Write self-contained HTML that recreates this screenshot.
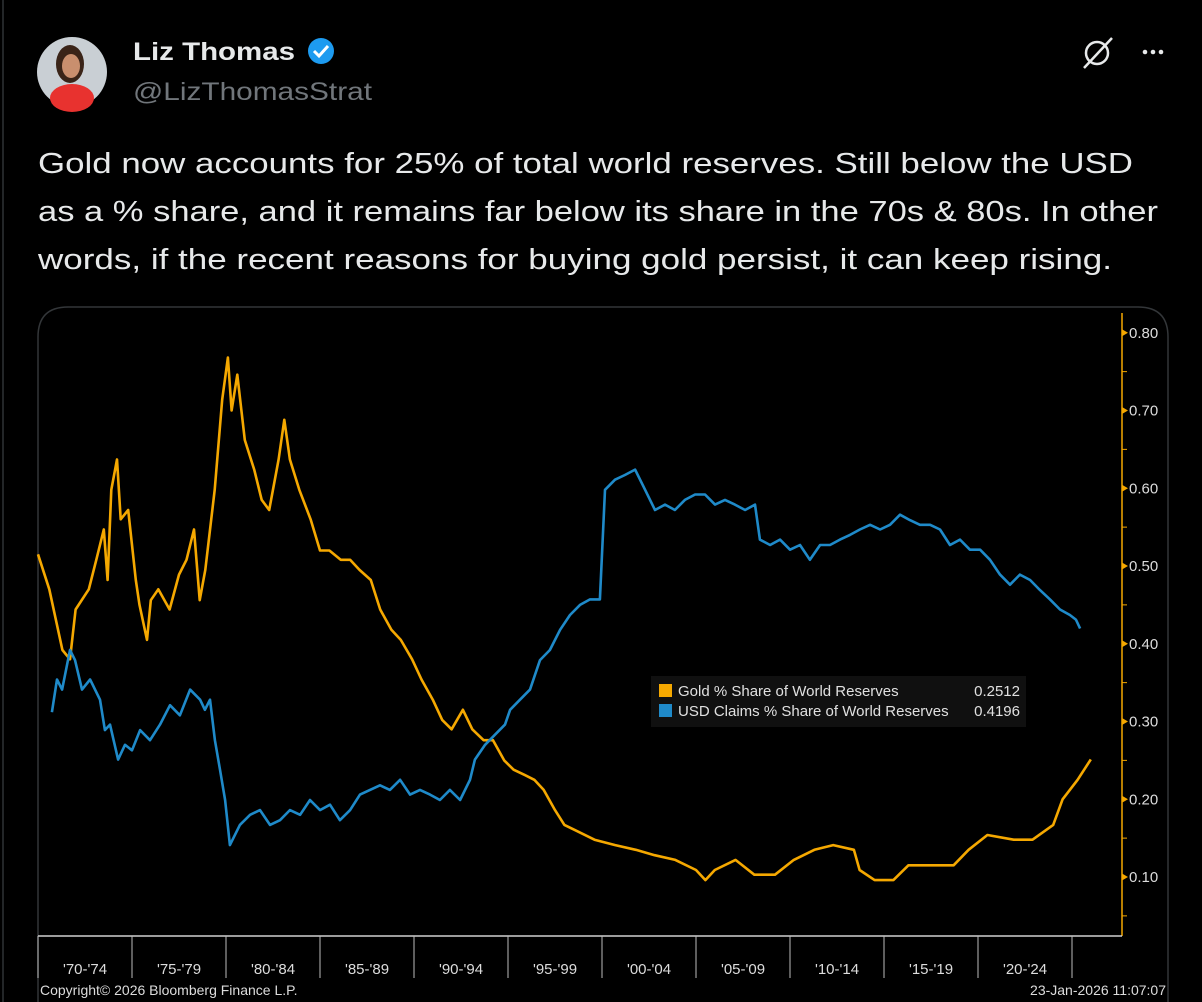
<!DOCTYPE html>
<html><head><meta charset="utf-8">
<style>
html,body{margin:0;padding:0;background:#000;width:1202px;height:1002px;overflow:hidden}
body{font-family:"Liberation Sans",sans-serif;color:#e7e9ea}
</style></head>
<body>
<svg id="root" width="1202" height="1002" viewBox="0 0 1202 1002" xmlns="http://www.w3.org/2000/svg">
  <rect x="0" y="0" width="1202" height="1002" fill="#000"/>
  <line x1="3" y1="0" x2="3" y2="1002" stroke="#2f3336" stroke-width="1.5"/>
  <g>
    <circle cx="72" cy="72" r="35" fill="#c9cfd4"/>
    <ellipse cx="72" cy="98" rx="22" ry="14" fill="#e8322f"/>
    <ellipse cx="70" cy="64" rx="14" ry="19" fill="#3a2418"/>
    <ellipse cx="71" cy="66" rx="9" ry="12" fill="#c98f6e"/>
  </g>
  <text x="133" y="60" font-size="25" font-weight="bold" fill="#e7e9ea" textLength="162" lengthAdjust="spacingAndGlyphs">Liz Thomas</text>
  <g>
    <circle cx="321" cy="51" r="13" fill="#1d9bf0"/>
    <path d="M314 51 l5 5 l9 -10" stroke="#fff" stroke-width="3" fill="none"/>
  </g>
  <text x="133" y="100" font-size="25" fill="#71767b" textLength="239" lengthAdjust="spacingAndGlyphs">@LizThomasStrat</text>
  <g>
    <circle cx="1097" cy="53" r="11" stroke="#e7e9ea" stroke-width="2.5" fill="none"/>
    <line x1="1084" y1="68" x2="1112" y2="38" stroke="#e7e9ea" stroke-width="2.5"/>
  </g>
  <g fill="#e7e9ea">
    <circle cx="1145" cy="52" r="2.3"/><circle cx="1153" cy="52" r="2.3"/><circle cx="1161" cy="52" r="2.3"/>
  </g>
  <g font-size="29" fill="#e7e9ea">
    <text x="38" y="173" textLength="1095" lengthAdjust="spacingAndGlyphs">Gold now accounts for 25% of total world reserves. Still below the USD</text>
    <text x="38" y="221" textLength="1120" lengthAdjust="spacingAndGlyphs">as a % share, and it remains far below its share in the 70s &amp; 80s. In other</text>
    <text x="38" y="269" textLength="1074" lengthAdjust="spacingAndGlyphs">words, if the recent reasons for buying gold persist, it can keep rising.</text>
  </g>
  <path d="M38 1002 V337 Q38 307 68 307 H1138 Q1168 307 1168 337 V1002" fill="#000" stroke="#333639" stroke-width="1.5"/>
  <g id="chart"></g>
</svg>
<script>
const goldYears=[1970.0,1970.6,1971.3,1971.7,1972.0,1972.7,1973.1,1973.5,1973.7,1973.9,1974.2,1974.4,1974.8,1975.2,1975.4,1975.8,1976.0,1976.4,1977.0,1977.5,1977.9,1978.3,1978.6,1978.9,1979.4,1979.8,1980.1,1980.3,1980.6,1981.0,1981.5,1981.9,1982.3,1982.8,1983.1,1983.4,1983.9,1984.5,1985.0,1985.5,1986.1,1986.6,1987.1,1987.7,1988.2,1988.8,1989.3,1989.9,1990.4,1991.0,1991.5,1992.0,1992.6,1993.1,1993.7,1994.2,1994.8,1995.3,1995.9,1996.4,1996.9,1997.5,1998.0,1998.6,1999.6,2000.7,2001.8,2002.8,2003.9,2005.0,2005.5,2006.0,2007.1,2008.1,2009.2,2010.2,2011.3,2012.3,2013.4,2013.7,2014.5,2015.5,2016.3,2017.6,2018.7,2019.5,2020.5,2021.9,2022.9,2024.0,2024.5,2025.3,2026.0];
const goldValues=[0.515,0.47,0.392,0.38,0.444,0.47,0.508,0.547,0.482,0.598,0.637,0.56,0.572,0.482,0.45,0.405,0.456,0.47,0.444,0.489,0.508,0.547,0.456,0.495,0.598,0.714,0.768,0.70,0.746,0.662,0.624,0.585,0.572,0.637,0.688,0.637,0.598,0.56,0.52,0.52,0.508,0.508,0.495,0.482,0.444,0.418,0.405,0.38,0.354,0.328,0.302,0.29,0.315,0.29,0.276,0.276,0.25,0.238,0.231,0.225,0.212,0.186,0.167,0.16,0.148,0.141,0.135,0.128,0.122,0.109,0.096,0.109,0.122,0.103,0.103,0.122,0.135,0.141,0.135,0.109,0.096,0.096,0.115,0.115,0.115,0.135,0.154,0.148,0.148,0.167,0.20,0.225,0.2512];
const usdYears=[1970.74,1971.01,1971.28,1971.70,1971.97,1972.34,1972.77,1973.30,1973.56,1973.83,1974.26,1974.63,1975.0,1975.43,1975.96,1976.49,1977.02,1977.55,1978.09,1978.62,1978.88,1979.15,1979.41,1979.68,1979.95,1980.21,1980.74,1981.28,1981.81,1982.34,1982.87,1983.40,1983.94,1984.47,1985.0,1985.53,1986.06,1986.60,1987.13,1987.66,1988.19,1988.72,1989.26,1989.79,1990.32,1990.85,1991.38,1991.91,1992.45,1992.98,1993.24,1993.78,1994.31,1994.84,1995.11,1995.64,1996.17,1996.70,1997.23,1997.77,1998.30,1998.83,1999.36,1999.89,2000.16,2000.69,2001.22,2001.76,2002.29,2002.82,2003.35,2003.88,2004.41,2004.95,2005.48,2006.01,2006.54,2007.07,2007.61,2008.14,2008.40,2008.94,2009.47,2010.0,2010.53,2011.06,2011.60,2012.13,2012.66,2013.19,2013.72,2014.26,2014.79,2015.32,2015.85,2016.38,2016.91,2017.45,2017.98,2018.51,2019.04,2019.57,2020.11,2020.64,2021.17,2021.70,2022.23,2022.77,2023.30,2023.83,2024.36,2024.89,2025.21,2025.43];
const usdValues=[0.312,0.354,0.341,0.392,0.379,0.341,0.354,0.328,0.289,0.296,0.251,0.270,0.263,0.289,0.276,0.296,0.321,0.308,0.341,0.328,0.315,0.328,0.276,0.238,0.199,0.141,0.167,0.180,0.186,0.167,0.173,0.186,0.180,0.199,0.186,0.193,0.173,0.186,0.206,0.212,0.218,0.212,0.225,0.206,0.212,0.206,0.199,0.212,0.199,0.225,0.251,0.270,0.283,0.296,0.315,0.328,0.341,0.379,0.392,0.418,0.437,0.450,0.457,0.457,0.598,0.611,0.617,0.624,0.598,0.572,0.579,0.572,0.585,0.592,0.592,0.579,0.585,0.579,0.572,0.579,0.534,0.527,0.534,0.521,0.527,0.508,0.527,0.527,0.534,0.540,0.547,0.553,0.547,0.553,0.566,0.559,0.553,0.553,0.547,0.527,0.534,0.521,0.521,0.508,0.489,0.476,0.489,0.482,0.469,0.457,0.444,0.437,0.431,0.4196];
const yTicks=[0.10,0.20,0.30,0.40,0.50,0.60,0.70,0.80];
const yTickLabels=["0.10","0.20","0.30","0.40","0.50","0.60","0.70","0.80"];
const xPeriods=["'70-'74","'75-'79","'80-'84","'85-'89","'90-'94","'95-'99","'00-'04","'05-'09","'10-'14","'15-'19","'20-'24"];
const xPeriodStarts=[1970,1975,1980,1985,1990,1995,2000,2005,2010,2015,2020,2025];
const legendLabels=["Gold % Share of World Reserves","USD Claims % Share of World Reserves"];
const legendValues=["0.2512","0.4196"];

const NS="http://www.w3.org/2000/svg";
const g=document.getElementById('chart');
const X0=38,PXY=18.8,Y10=877,PXV=777.5,AXX=1122,AXB=936;
function xs(yr){return X0+(yr-1970)*PXY;}
function ys(v){return Y10-(v-0.10)*PXV;}
function el(t,a,txt){const e=document.createElementNS(NS,t);for(const k in a)e.setAttribute(k,a[k]);if(txt!==undefined)e.textContent=txt;g.appendChild(e);return e;}
const NF='"Liberation Sans Narrow","Liberation Sans",sans-serif';

const ax=el('line',{x1:AXX,y1:313,x2:AXX,y2:AXB,stroke:'#f5a800','stroke-width':1.5});


for(let v=0.05;v<=0.801;v+=0.05){
  const mt=el('line',{x1:AXX,y1:ys(v),x2:AXX+5,y2:ys(v),stroke:'#f5a800','stroke-width':1});
  
  
}
yTicks.forEach((v,i)=>{
  const y=ys(v);
  const tri=el('path',{d:`M${AXX} ${y-3.5} L${AXX+6} ${y} L${AXX} ${y+3.5}Z`,fill:'#f5a800'});
  
  
  const t=el('text',{x:AXX+7,y:y+5,'font-size':15,fill:'#dcdcdc','font-family':NF},yTickLabels[i]);
  
  
});
const xa=el('line',{x1:X0,y1:AXB,x2:AXX,y2:AXB,stroke:'#d0d0d0','stroke-width':1.5});


xPeriodStarts.forEach(yr=>{
  const s=el('line',{x1:xs(yr),y1:AXB,x2:xs(yr),y2:978,stroke:'#bbb','stroke-width':1});
  
  
});
xPeriods.forEach((lab,i)=>{
  const cx=(xs(xPeriodStarts[i])+xs(xPeriodStarts[i+1]))/2;
  const t=el('text',{x:cx,y:974,'font-size':15,fill:'#dcdcdc','text-anchor':'middle','font-family':NF},lab);
  
  
});
const cp=el('text',{x:40,y:995,'font-size':14,fill:'#dcdcdc','font-family':NF},'Copyright\u00a9 2026 Bloomberg Finance L.P.');


const dt=el('text',{x:1166,y:995,'font-size':14,fill:'#dcdcdc','text-anchor':'end','font-family':NF},'23-Jan-2026 11:07:07');



function path(xsArr,vs){return xsArr.map((yr,i)=>(i?'L':'M')+xs(yr).toFixed(1)+' '+ys(vs[i]).toFixed(1)).join(' ');}
const gl=el('path',{d:path(goldYears,goldValues),stroke:'#f5a800','stroke-width':2.6,fill:'none','stroke-linejoin':'round'});


const ul=el('path',{d:path(usdYears,usdValues),stroke:'#1f8ac9','stroke-width':2.6,fill:'none','stroke-linejoin':'round'});



const lb=el('rect',{x:651,y:676,width:375,height:51,fill:'#101010'});


const colors=['#f5a800','#1f8ac9'];
legendLabels.forEach((lab,i)=>{
  const y=684+i*20;
  const sw=el('rect',{x:659,y:y,width:13,height:13,fill:colors[i]});
  
  
  const t=el('text',{x:678,y:y+12,'font-size':15,fill:'#e0e0e0','font-family':NF},lab);
  
  
  const v=el('text',{x:1020,y:y+12,'font-size':15,fill:'#e0e0e0','text-anchor':'end','font-family':NF},legendValues[i]);
  
  
});
</script>
</body></html>
